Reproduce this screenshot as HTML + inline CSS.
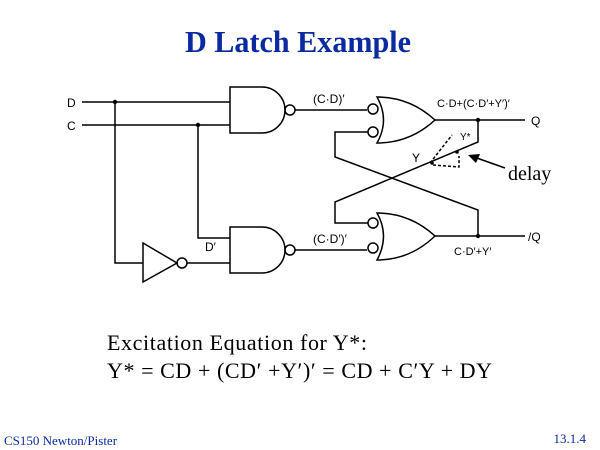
<!DOCTYPE html>
<html><head><style>
body{margin:0;background:#fff;}
svg{display:block}
</style></head><body>
<svg width="600" height="450" viewBox="0 0 600 450" xmlns="http://www.w3.org/2000/svg">
<text x="298" y="52" text-anchor="middle" font-family="Liberation Serif, serif" font-weight="bold" font-size="31" fill="#0a2aa0" textLength="226" lengthAdjust="spacingAndGlyphs">D Latch Example</text>
<g stroke="#000" stroke-width="1.5" fill="none">
<line x1="82" y1="102" x2="230" y2="102"/>
<line x1="82" y1="125" x2="230" y2="125"/>
<polyline points="115,102 115,263 143,263"/>
<polyline points="198,125 198,238 230,238"/>
<path d="M230,87 L262,87 A23,23 0 0 1 262,133 L230,133 Z"/>
<circle cx="290" cy="110" r="5"/>
<line x1="295" y1="110" x2="367" y2="110"/>
<path d="M230,227 L262,227 A23,23 0 0 1 262,273 L230,273 Z"/>
<circle cx="290" cy="250" r="5"/>
<line x1="295" y1="250" x2="367" y2="250"/>
<path d="M143,243 L177,263 L143,282 Z"/>
<circle cx="182" cy="263" r="5"/>
<line x1="187" y1="263" x2="230" y2="263"/>
<path d="M377,97 Q410,97 435,120 Q410,143 377,143 Q390,120 377,97 Z"/>
<circle cx="373" cy="109" r="5"/>
<circle cx="373" cy="132" r="5"/>
<path d="M377,213 Q410,213 435,236 Q410,260 377,260 Q390,236 377,213 Z"/>
<circle cx="373" cy="223" r="5"/>
<circle cx="373" cy="248" r="5"/>
<line x1="435" y1="120" x2="525" y2="120"/>
<line x1="435" y1="236" x2="525" y2="236"/>
<polyline points="478,120 478,142 335,202 335,223 368,223"/>
<polyline points="368,132 335,132 335,157 478,210 478,236"/>
<line x1="505" y1="168" x2="474" y2="157"/>
</g>
<path d="M468,155 L480,154 L476,163 Z" fill="#000"/>
<g stroke="#000" stroke-width="1.5" fill="none" stroke-dasharray="3,2">
<polyline points="430,163 452,135"/>
<polyline points="433,165 459,167 459,156"/>
</g>
<g fill="#000">
<circle cx="115" cy="102" r="2.2"/><circle cx="198" cy="125" r="2.2"/>
<circle cx="478" cy="120" r="2.2"/><circle cx="478" cy="236" r="2.2"/>
<circle cx="432" cy="163" r="1.8"/><circle cx="457" cy="152" r="1.8"/>
</g>
<g font-family="Liberation Sans, sans-serif" font-size="12" fill="#000">
<text x="67" y="107">D</text>
<text x="67" y="130">C</text>
<text x="313" y="103">(C·D)′</text>
<text x="437" y="107" font-size="11">C·D+(C·D′+Y′)′</text>
<text x="531" y="125">Q</text>
<text x="460" y="140" font-size="10">Y*</text>
<text x="412" y="162">Y</text>
<text x="205" y="251">D′</text>
<text x="313" y="243">(C·D′)′</text>
<text x="454" y="255" font-size="11">C·D′+Y′</text>
<text x="528" y="241">/Q</text>
</g>
<text x="508" y="180" font-family="Liberation Serif, serif" font-size="20">delay</text>
<g font-family="Liberation Serif, serif" font-size="22" fill="#000">
<text x="107" y="350" textLength="260" lengthAdjust="spacing">Excitation Equation for Y*:</text>
<text x="107" y="378" textLength="385" lengthAdjust="spacing">Y* = CD + (CD′ +Y′)′ = CD + C′Y + DY</text>
</g>
<text x="4" y="445" font-family="Liberation Serif, serif" font-size="13" fill="#0a2aa0">CS150 Newton/Pister</text>
<text x="586" y="443" text-anchor="end" font-family="Liberation Serif, serif" font-size="13" fill="#0a2aa0">13.1.4</text>
</svg>
</body></html>
